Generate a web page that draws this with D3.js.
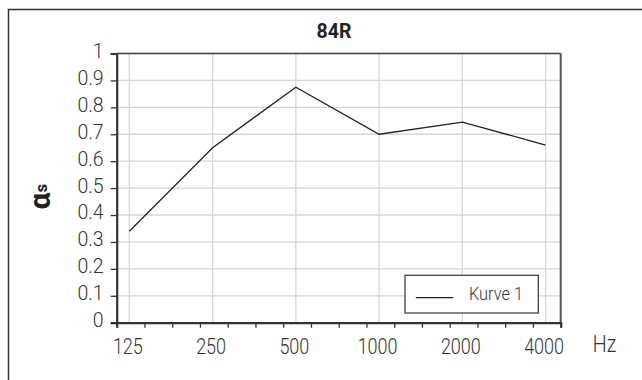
<!DOCTYPE html>
<html>
<head>
<meta charset="utf-8">
<script src="https://cdn.jsdelivr.net/npm/d3@7"></script>
<style>
  body { margin: 0; background: #fff; }
  svg { display: block; }
  text { font-family: Roboto, "Liberation Sans", sans-serif; }
</style>
</head>
<body>
<div class="chart"></div>
<script>
// octave band centre frequencies and measured absorption
var freqs = [125, 250, 500, 1000, 2000, 4000];
var alphaS = [0.34, 0.65, 0.875, 0.70, 0.745, 0.66];
var freqLabels = ["125", "250", "500", "1000", "2000", "4000"];
var yTicks = [0, 0.1, 0.2, 0.3, 0.4, 0.5, 0.6, 0.7, 0.8, 0.9, 1];
var seriesName = "Kurve 1";
var title = "84R";

var W = 642, H = 380;
var margin = {top: 53.5, right: 81.3, bottom: 57.3, left: 116.7},
    width = W - margin.left - margin.right,
    height = H - margin.top - margin.bottom;

var svg = d3.select(".chart").append("svg")
    .attr("width", W)
    .attr("height", H);

// condensed text: draw at origin and squeeze horizontally
function narrowText(sel, px, py, sx) {
  return sel.attr("transform", "translate(" + px + "," + py + ")scale(" + sx + ",1)");
}

// outer frame (runs off the picture right and bottom)
svg.append("rect")
    .attr("x", 8.5).attr("y", 9.5)
    .attr("width", 700).attr("height", 400)
    .attr("fill", "none")
    .attr("stroke", "#333")
    .attr("stroke-width", 1.5);

var g = svg.append("g")
    .attr("transform", "translate(" + margin.left + "," + margin.top + ")");

// log axis, third-octave minor ticks, starting a sixth of an octave below 125
var fLo = 112.5, fHi = fLo * Math.pow(2, 16 / 3);
var x = d3.scaleLog().base(2).domain([fLo, fHi]).range([0, width]);
var y = d3.scaleLinear().domain([0, 1]).range([height, 0]);

var thirdOct = d3.range(17).map(function(i){ return fLo * Math.pow(2, i / 3); });

// grid
g.selectAll(".hgrid")
    .data(yTicks.slice(1))
    .enter().append("line")
    .attr("x1", 0).attr("x2", width)
    .attr("y1", function(d){ return y(d); })
    .attr("y2", function(d){ return y(d); })
    .attr("stroke", "#d6d6d6")
    .attr("stroke-width", 1.3);

g.selectAll(".vgrid")
    .data(freqs)
    .enter().append("line")
    .attr("x1", function(d){ return x(d); })
    .attr("x2", function(d){ return x(d); })
    .attr("y1", 0).attr("y2", height)
    .attr("stroke", "#d6d6d6")
    .attr("stroke-width", 1.3);

// plot border
g.append("line").attr("x1", 0).attr("x2", width).attr("y1", 0).attr("y2", 0)
    .attr("stroke", "#444").attr("stroke-width", 1.4);
g.append("line").attr("x1", width).attr("x2", width).attr("y1", 0).attr("y2", height)
    .attr("stroke", "#555").attr("stroke-width", 2);

// y axis
var yAxis = d3.axisLeft(y)
    .tickValues(yTicks)
    .tickSize(6)
    .tickPadding(6)
    .tickFormat(function(d){ return d3.format("")(+d.toFixed(1)); });

var ya = g.append("g").call(yAxis);
ya.select(".domain").attr("stroke", "#333").attr("stroke-width", 2.2);
ya.selectAll(".tick line").attr("stroke", "#333").attr("stroke-width", 1.3);
ya.selectAll(".tick text")
    .attr("font-family", "Roboto, 'Liberation Sans', sans-serif")
    .attr("font-weight", 300)
    .attr("font-size", 19.5)
    .attr("fill", "#333")
    .attr("dy", "0.2em")
    .attr("dx", -1);

// x axis: minor ticks
var xAxis = d3.axisBottom(x)
    .tickValues(thirdOct)
    .tickSize(5)
    .tickFormat("");

var xa = g.append("g")
    .attr("transform", "translate(0," + height + ")")
    .call(xAxis);
xa.select(".domain").attr("stroke", "#333").attr("stroke-width", 2.2);
xa.selectAll(".tick line").attr("stroke", "#333").attr("stroke-width", 1.3);

// x labels at octave centres
g.selectAll(".xlab")
    .data(freqs)
    .enter().append("text")
    .each(function(d){ narrowText(d3.select(this), x(d) - 1.5, height + 31.5, 0.8); })
    .attr("text-anchor", "middle")
    .attr("font-size", 22.5)
    .attr("font-weight", 300)
    .attr("fill", "#333")
    .text(function(d, i){ return freqLabels[i]; });

// data line
var line = d3.line()
    .x(function(d, i){ return x(freqs[i]); })
    .y(function(d){ return y(d); });

g.append("path")
    .datum(alphaS)
    .attr("d", line)
    .attr("fill", "none")
    .attr("stroke", "#222")
    .attr("stroke-width", 1.3);

// title
narrowText(svg.append("text"), 334, 38.3, 0.93)
    .attr("text-anchor", "middle")
    .attr("font-size", 21)
    .attr("font-weight", "bold")
    .attr("fill", "#222")
    .text(title);

// Hz
narrowText(svg.append("text"), 592.7, 351.7, 0.82)
    .attr("font-size", 24)
    .attr("font-weight", 300)
    .attr("fill", "#333")
    .text("Hz");

// y label alpha_s
var yl = svg.append("text")
    .attr("transform", "translate(50,196.7)rotate(-90)")
    .attr("text-anchor", "middle")
    .attr("font-family", "'DejaVu Sans', sans-serif")
    .attr("font-weight", "bold")
    .attr("fill", "#222");
yl.append("tspan").attr("font-size", 30).text("\u03b1");
yl.append("tspan").attr("font-size", 17).attr("dy", -3).text("s");

// legend
var lg = svg.append("g")
    .attr("transform", "translate(405,275.3)");
lg.append("rect")
    .attr("width", 133.3).attr("height", 37.7)
    .attr("fill", "#fff")
    .attr("stroke", "#444")
    .attr("stroke-width", 1.3);
lg.append("line")
    .attr("x1", 10.7).attr("x2", 48.3)
    .attr("y1", 22.4).attr("y2", 22.4)
    .attr("stroke", "#222")
    .attr("stroke-width", 1.3);
narrowText(lg.append("text"), 64, 24.2, 0.86)
    .attr("font-size", 19)
    .attr("font-weight", 300)
    .attr("fill", "#333")
    .text(seriesName);
</script>
</body>
</html>
